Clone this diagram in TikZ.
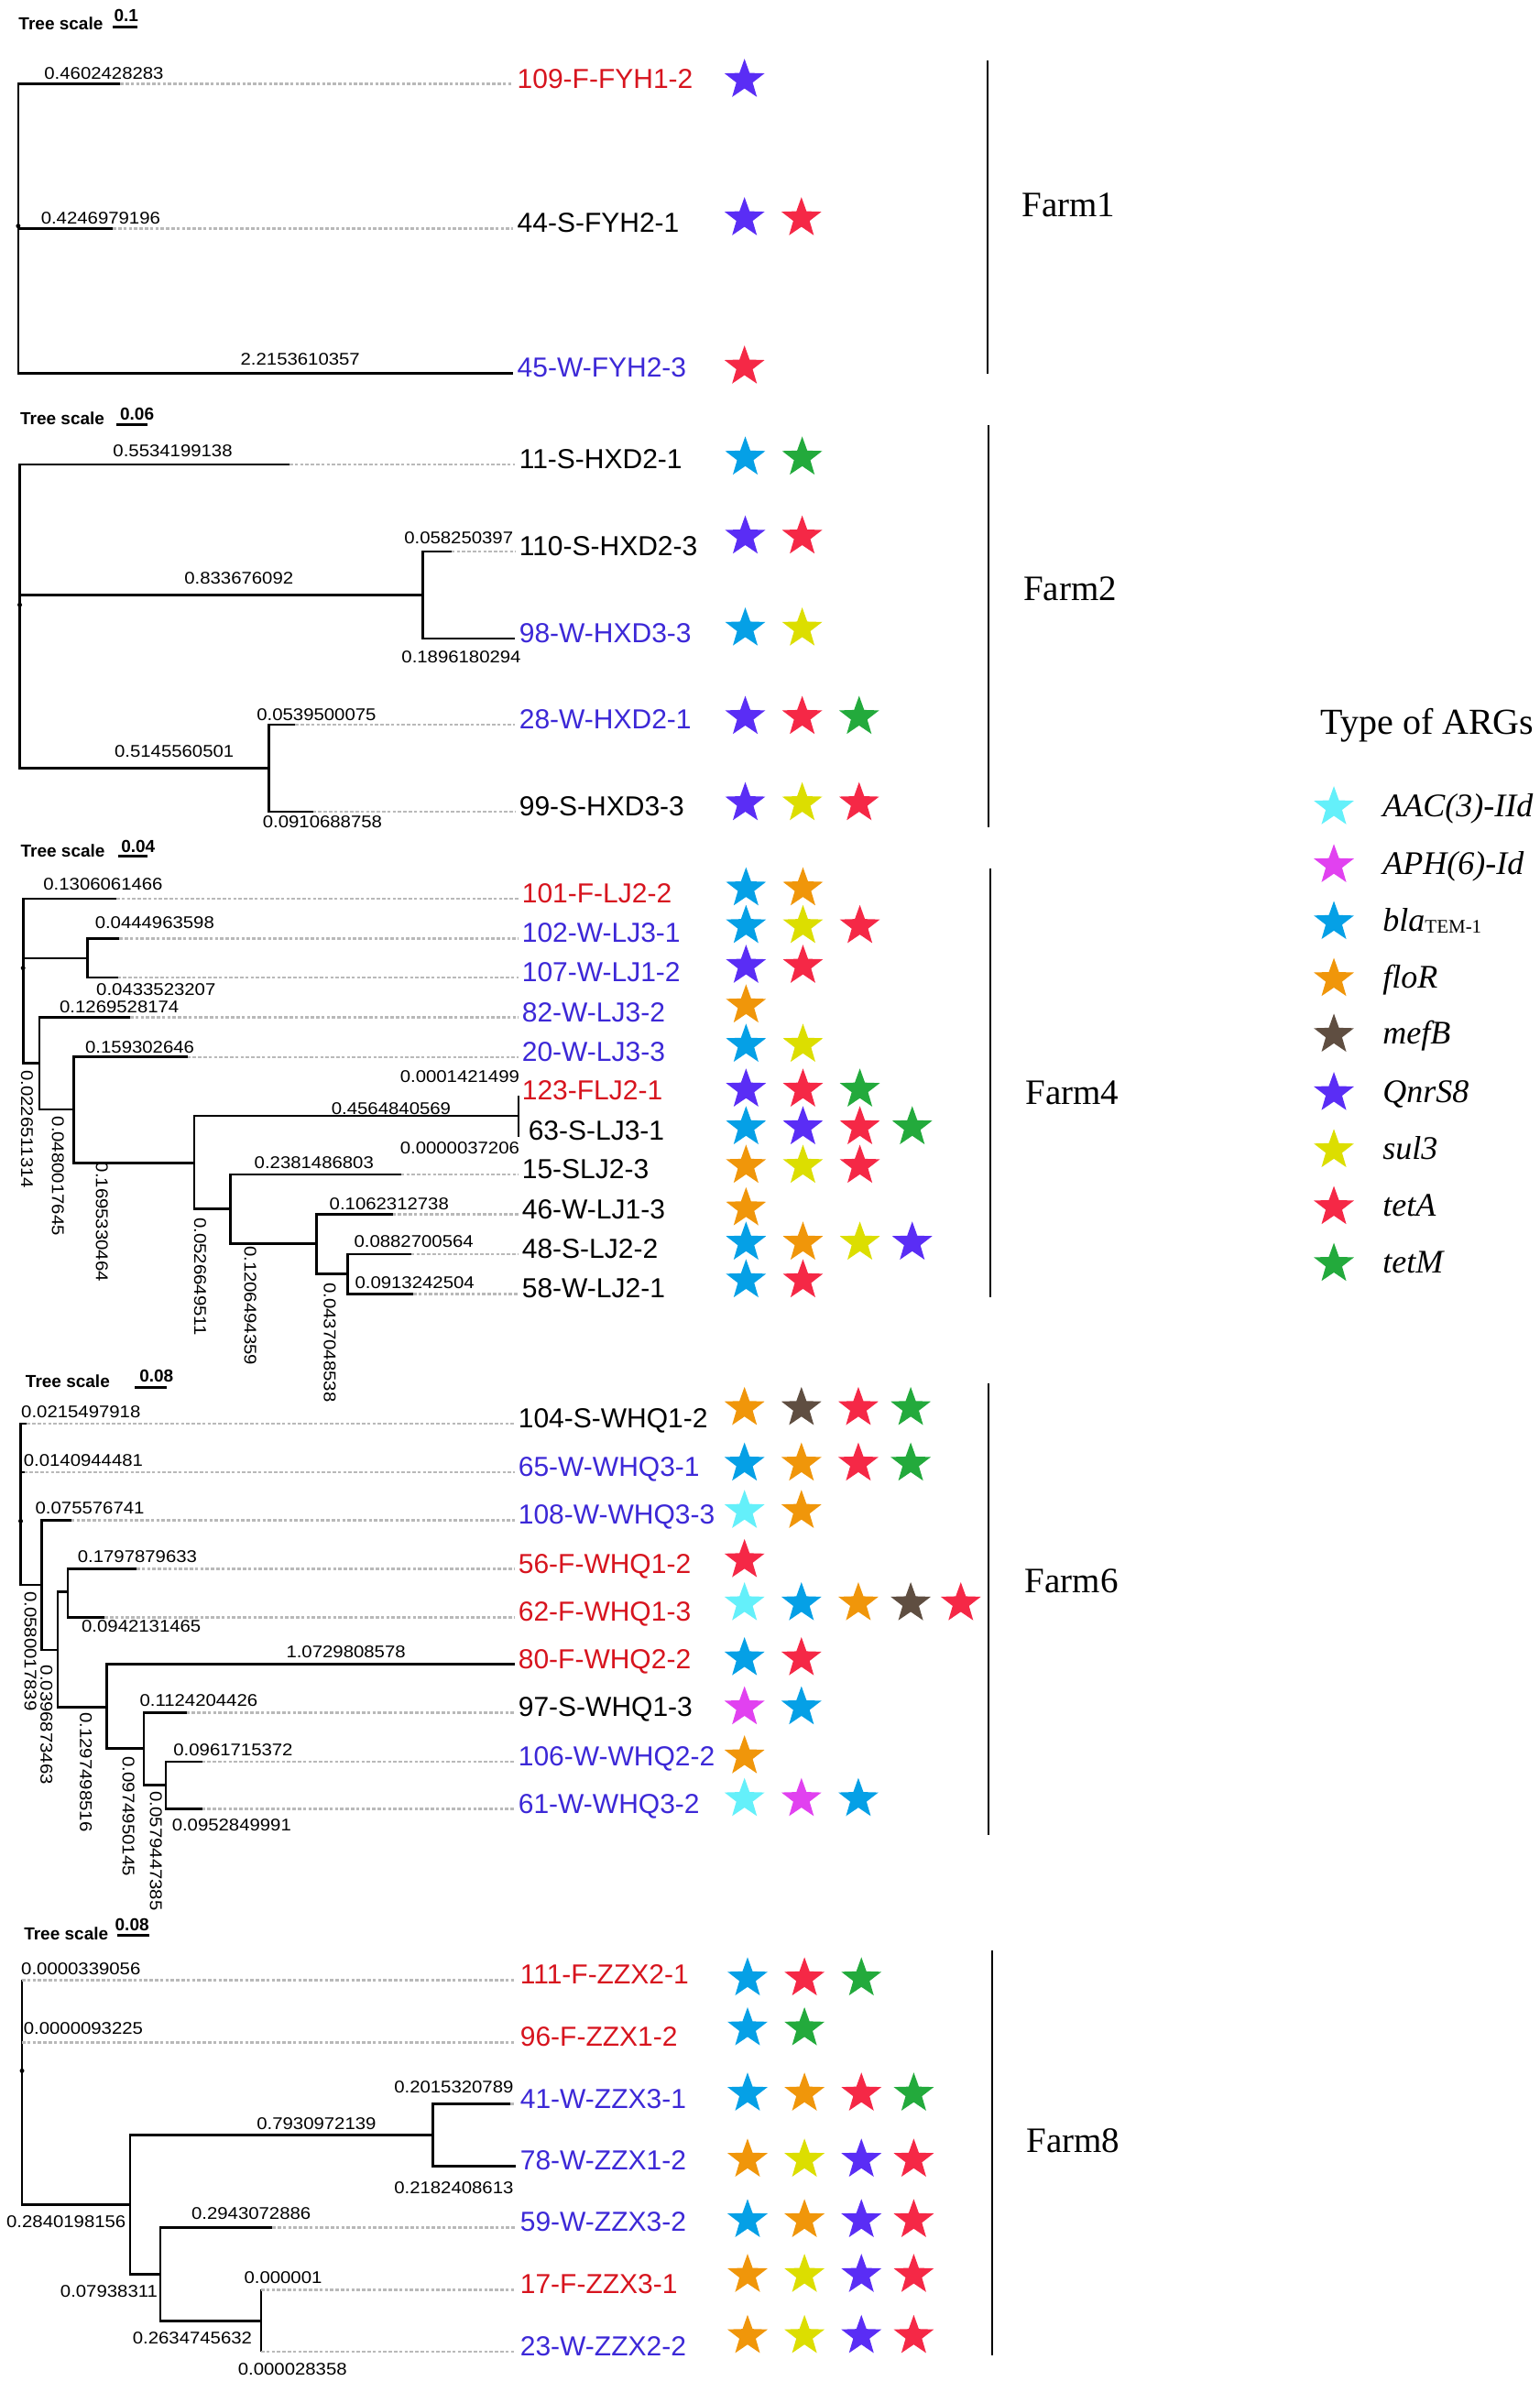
\documentclass[tikz,border=0pt]{standalone}
\usepackage{fontspec}
\setmainfont{Liberation Serif}
\setsansfont{Liberation Sans}
\newfontfamily\blfont[FakeStretch=1.1]{Liberation Sans}
\usetikzlibrary{shapes.geometric}

\definecolor{cAAC}{RGB}{100,240,250}
\definecolor{cAPH}{RGB}{225,65,240}
\definecolor{cBla}{RGB}{5,160,230}
\definecolor{cFlo}{RGB}{240,150,10}
\definecolor{cMef}{RGB}{95,78,65}
\definecolor{cQnr}{RGB}{90,45,245}
\definecolor{cSul}{RGB}{220,222,0}
\definecolor{cTetA}{RGB}{245,40,70}
\definecolor{cTetM}{RGB}{35,170,60}
\definecolor{labred}{RGB}{215,20,30}
\definecolor{labblue}{RGB}{60,40,215}
\definecolor{dashgray}{RGB}{185,185,185}

\tikzset{
  branch/.style={line width=2.7pt, black, line join=miter},
  dashline/.style={line width=2.6pt, dashgray, dash pattern=on 3.6pt off 2.2pt},
  tiplab/.style={anchor=base west, inner sep=0pt, font=\sffamily\fontsize{30}{30}\selectfont},
  blab/.style={inner sep=0pt, font=\blfont\fontsize{18.5}{18.5}\selectfont},
  rlab/.style={blab, rotate=-90},
  tsc/.style={inner sep=0pt, font=\sffamily\bfseries\fontsize{19}{19}\selectfont},
  scalebar/.style={line width=3pt},
  farmline/.style={line width=2pt},
  farmlab/.style={inner sep=0pt, font=\rmfamily\fontsize{39}{39}\selectfont},
  rootdot/.style={circle, fill=black, inner sep=0pt, minimum size=5pt},
  argstar/.style={star, star points=5, star point ratio=2.45, minimum size=46pt, inner sep=0pt, draw=none},
  legtxt/.style={anchor=base west, inner sep=0pt, font=\rmfamily\itshape\fontsize{36}{36}\selectfont},
}

\newcommand{\mktip}[6]{%
  \coordinate (#1e) at (#3,#4);
  \coordinate (#1d) at (\dashx,#4);
  \draw[branch] (#2) |- (#1e);
  \draw[dashline] (#1e) -- (#1d);
  \node[tiplab, text=#5] (#1) at (\labx,#4+2.7) {#6};}

\newcommand{\starrow}[3]{%
  \foreach \cc [count=\ii] in {#3} {%
    \edef\xx{\ifcase\numexpr\ii\relax\or490.5\or528\or565.5\or600\or633\fi}%
    \node[argstar, fill=\cc] (#1s\ii) at (\xx+\sxo, #2) {};}}

\begin{document}
\begin{tikzpicture}[x=1.6568pt, y=-1.6575pt]
\useasboundingbox (0,0) rectangle (1014,1568);
\fill[white] (0,0) rectangle (1014,1568);

%% ---------------- Farm1 ----------------
\def\labx{340.7}\def\dashx{337.8}\def\sxo{0}
\node[tsc] (ts1) at (40.1,15.6) {Tree scale};
\node[tsc] (sv1) at (83.2,10) {0.1};
\coordinate (sb1a) at (74.3,17.7); \coordinate (sb1b) at (90.4,17.7);
\draw[scalebar] (sb1a) -- (sb1b);
\coordinate (f1r) at (12,148.8);
\node[rootdot] (f1dot) at (f1r) {};
\mktip{t109}{f1r}{79.2}{55.3}{labred}{109-F-FYH1-2}
\mktip{t44}{f1r}{74.4}{150.4}{black}{44-S-FYH2-1}
\mktip{t45}{f1r}{337.8}{245.8}{labblue}{45-W-FYH2-3}
\node[blab] (b1a) at (68.5,48.3) {0.4602428283};
\node[blab] (b1b) at (66.3,143.4) {0.4246979196};
\node[blab] (b1c) at (197.8,236.7) {2.2153610357};
\starrow{r109}{52.6}{cQnr}
\starrow{r44}{143.7}{cQnr,cTetA}
\starrow{r45}{241.4}{cTetA}
\coordinate (fl1a) at (650.6,39.8); \coordinate (fl1b) at (650.6,245.9);
\draw[farmline] (fl1a) -- (fl1b);
\node[farmlab] (farm1) at (704,135) {Farm1};

%% ---------------- Farm2 ----------------
\def\labx{342}\def\dashx{339.5}\def\sxo{0.5}
\node[tsc] (ts2) at (41.1,275.4) {Tree scale};
\node[tsc] (sv2) at (90.3,272.9) {0.06};
\coordinate (sb2a) at (76.6,279.5); \coordinate (sb2b) at (96.9,279.5);
\draw[scalebar] (sb2a) -- (sb2b);
\coordinate (f2r) at (13,398.3);
\node[rootdot] (f2dot) at (f2r) {};
\coordinate (f2a) at (278.7,391.7);
\coordinate (f2b) at (177.2,505.9);
\draw[branch] (f2r) |- (f2a);
\draw[branch] (f2r) |- (f2b);
\mktip{t11}{f2r}{190.7}{305.8}{black}{11-S-HXD2-1}
\mktip{t110}{f2a}{297.4}{363.1}{black}{110-S-HXD2-3}
\mktip{t98}{f2a}{339.5}{420.5}{labblue}{98-W-HXD3-3}
\mktip{t28}{f2b}{194.6}{477.2}{labblue}{28-W-HXD2-1}
\mktip{t99}{f2b}{206.2}{534.6}{black}{99-S-HXD3-3}
\node[blab] (b2a) at (113.8,297) {0.5534199138};
\node[blab] (b2b) at (157.4,380.6) {0.833676092};
\node[blab] (b2c) at (302.2,354) {0.058250397};
\node[blab] (b2d) at (303.9,432.4) {0.1896180294};
\node[blab] (b2e) at (114.8,494.7) {0.5145560501};
\node[blab] (b2f) at (208.5,470.6) {0.0539500075};
\node[blab] (b2g) at (212.4,541.4) {0.0910688758};
\starrow{r11}{301.3}{cBla,cTetM}
\starrow{r110}{353.3}{cQnr,cTetA}
\starrow{r98}{413.9}{cBla,cSul}
\starrow{r28}{472.1}{cQnr,cTetA,cTetM}
\starrow{r99}{528.9}{cQnr,cSul,cTetA}
\coordinate (fl2a) at (651.1,279.8); \coordinate (fl2b) at (651.1,545);
\draw[farmline] (fl2a) -- (fl2b);
\node[farmlab] (farm2) at (705,388) {Farm2};

%% ---------------- Farm4 ----------------
\def\labx{343.8}\def\dashx{341.7}\def\sxo{1}
\node[tsc] (ts4) at (41.4,560) {Tree scale};
\node[tsc] (sv4) at (91,557.3) {0.04};
\coordinate (sb4a) at (77.6,563.7); \coordinate (sb4b) at (97,563.7);
\draw[scalebar] (sb4a) -- (sb4b);
\coordinate (f4r) at (15.2,637.5);
\node[rootdot] (f4dot) at (f4r) {};
\coordinate (f4A) at (57.5,631.1);
\coordinate (f4B) at (25.9,700.1);
\coordinate (f4C) at (48.5,730.6);
\coordinate (f4D) at (128,765.7);
\coordinate (f4E) at (341.7,734.9);
\coordinate (f4F) at (152,796.2);
\coordinate (f4G) at (208.5,818.8);
\coordinate (f4H) at (228.9,838.9);
\draw[branch] (f4r) |- (f4A);
\draw[branch] (f4r) |- (f4B);
\draw[branch] (f4B) |- (f4C);
\draw[branch] (f4C) |- (f4D);
\draw[branch] (f4D) |- (f4E);
\draw[branch] (f4D) |- (f4F);
\draw[branch] (f4F) |- (f4G);
\draw[branch] (f4G) |- (f4H);
\mktip{t101}{f4r}{76.6}{591.9}{labred}{101-F-LJ2-2}
\mktip{t102}{f4A}{78.6}{618}{labblue}{102-W-LJ3-1}
\mktip{t107}{f4A}{77.6}{643.8}{labblue}{107-W-LJ1-2}
\mktip{t82}{f4B}{85.7}{670}{labblue}{82-W-LJ3-2}
\mktip{t20}{f4C}{123.5}{696.1}{labblue}{20-W-LJ3-3}
\coordinate (t123e) at (341.7,721.6);
\coordinate (t63e) at (341.7,748.4);
\draw[branch] (f4E) |- (t123e);
\draw[branch] (f4E) |- (t63e);
\node[tiplab, text=labred] (t123) at (343.8,724.3) {123-FLJ2-1};
\node[tiplab, text=black] (t63) at (348,751.1) {63-S-LJ3-1};
\mktip{t15}{f4F}{264.2}{773.5}{black}{15-SLJ2-3}
\mktip{t46}{f4G}{258.7}{799.7}{black}{46-W-LJ1-3}
\mktip{t48}{f4H}{270.9}{825.9}{black}{48-S-LJ2-2}
\mktip{t58}{f4H}{272.2}{852}{black}{58-W-LJ2-1}
\node[blab] (b4a) at (67.9,582) {0.1306061466};
\node[blab] (b4b) at (101.9,607.5) {0.0444963598};
\node[blab] (b4c) at (102.8,651.8) {0.0433523207};
\node[blab] (b4d) at (78.6,663.3) {0.1269528174};
\node[blab] (b4e) at (92.1,689.5) {0.159302646};
\node[blab] (b4f) at (302.9,708.8) {0.0001421499};
\node[blab] (b4g) at (257.7,729.9) {0.4564840569};
\node[blab] (b4h) at (302.9,756) {0.0000037206};
\node[blab] (b4i) at (206.9,765.5) {0.2381486803};
\node[blab] (b4j) at (256.4,792.6) {0.1062312738};
\node[blab] (b4k) at (272.6,817.8) {0.0882700564};
\node[blab] (b4l) at (273.2,844.4) {0.0913242504};
\node[rlab] (b4m) at (17.8,743.7) {0.0226511314};
\node[rlab] (b4n) at (38.1,774.5) {0.0480017645};
\node[rlab] (b4o) at (67.2,804.7) {0.1695330464};
\node[rlab] (b4p) at (131.9,840.7) {0.0526649511};
\node[rlab] (b4q) at (164.9,859.8) {0.1206494359};
\node[rlab] (b4r) at (217.3,884) {0.0437048538};
\starrow{r101}{585}{cBla,cFlo}
\starrow{r102}{609.8}{cBla,cSul,cTetA}
\starrow{r107}{636}{cQnr,cTetA}
\starrow{r82}{662.1}{cFlo}
\starrow{r20}{688}{cBla,cSul}
\starrow{r123}{717.5}{cQnr,cTetA,cTetM}
\starrow{r63}{742.3}{cBla,cQnr,cTetA,cTetM}
\starrow{r15}{767.7}{cFlo,cSul,cTetA}
\starrow{r46}{795.7}{cFlo}
\starrow{r48}{818.3}{cBla,cFlo,cSul,cQnr}
\starrow{r58}{843.1}{cBla,cTetA}
\coordinate (fl4a) at (652.5,572); \coordinate (fl4b) at (652.5,854.3);
\draw[farmline] (fl4a) -- (fl4b);
\node[farmlab] (farm4) at (706.3,719.9) {Farm4};

%% ---------------- Farm6 ----------------
\def\labx{341.4}\def\dashx{339.4}\def\sxo{0}
\node[tsc] (ts6) at (44.6,909.7) {Tree scale};
\node[tsc] (sv6) at (103.1,906.3) {0.08};
\coordinate (sb6a) at (88.9,913.6); \coordinate (sb6b) at (109.9,913.6);
\draw[scalebar] (sb6a) -- (sb6b);
\coordinate (f6r) at (13.6,1001.7);
\node[rootdot] (f6dot) at (f6r) {};
\coordinate (f6A) at (27.5,1043.8);
\coordinate (f6B) at (38.1,1086.5);
\coordinate (f6C) at (44.6,1048.4);
\coordinate (f6D) at (70.5,1124.3);
\coordinate (f6E) at (94.7,1151.6);
\coordinate (f6F) at (109.3,1175.6);
\draw[branch] (f6r) |- (f6A);
\draw[branch] (f6A) |- (f6B);
\draw[branch] (f6B) |- (f6C);
\draw[branch] (f6B) |- (f6D);
\draw[branch] (f6D) |- (f6E);
\draw[branch] (f6E) |- (f6F);
\mktip{t104}{f6r}{17.8}{937.6}{black}{104-S-WHQ1-2}
\mktip{t65}{f6r}{16}{969.5}{labblue}{65-W-WHQ3-1}
\mktip{t108}{f6A}{46.9}{1001.1}{labblue}{108-W-WHQ3-3}
\mktip{t56}{f6C}{89.9}{1033.3}{labred}{56-F-WHQ1-2}
\mktip{t62}{f6C}{68.9}{1065}{labred}{62-F-WHQ1-3}
\mktip{t80}{f6D}{339.4}{1096}{labred}{80-F-WHQ2-2}
\mktip{t97}{f6E}{122.9}{1127.8}{black}{97-S-WHQ1-3}
\mktip{t106}{f6F}{133.2}{1160.1}{labblue}{106-W-WHQ2-2}
\mktip{t61}{f6F}{133.2}{1191.3}{labblue}{61-W-WHQ3-2}
\node[blab] (b6a) at (53.3,929.6) {0.0215497918};
\node[blab] (b6b) at (54.9,961.5) {0.0140944481};
\node[blab] (b6c) at (59.2,993.2) {0.075576741};
\node[blab] (b6d) at (90.5,1025) {0.1797879633};
\node[blab] (b6e) at (93.1,1070.7) {0.0942131465};
\node[blab] (b6f) at (227.9,1088) {1.0729808578};
\node[blab] (b6g) at (130.9,1119.8) {0.1124204426};
\node[blab] (b6h) at (153.6,1152.6) {0.0961715372};
\node[blab] (b6i) at (152.6,1202.1) {0.0952849991};
\node[rlab] (b6j) at (20,1087.4) {0.0580017839};
\node[rlab] (b6k) at (30.7,1135.9) {0.0396873463};
\node[rlab] (b6l) at (56.6,1167) {0.1297498516};
\node[rlab] (b6m) at (84.7,1196.2) {0.0974950145};
\node[rlab] (b6n) at (102.8,1219) {0.0579447385};
\starrow{r104}{927.2}{cFlo,cMef,cTetA,cTetM}
\starrow{r65}{963.8}{cBla,cFlo,cTetA,cTetM}
\starrow{r108}{995}{cAAC,cFlo}
\starrow{r56}{1027.4}{cTetA}
\starrow{r62}{1055.8}{cAAC,cBla,cFlo,cMef,cTetA}
\starrow{r80}{1092}{cBla,cTetA}
\starrow{r97}{1124.3}{cAPH,cBla}
\starrow{r106}{1156.6}{cFlo}
\starrow{r61}{1184.7}{cAAC,cAPH,cBla}
\coordinate (fl6a) at (651.3,911); \coordinate (fl6b) at (651.3,1208.4);
\draw[farmline] (fl6a) -- (fl6b);
\node[farmlab] (farm6) at (706,1041) {Farm6};

%% ---------------- Farm8 ----------------
\def\labx{342.6}\def\dashx{339.7}\def\sxo{2}
\node[tsc] (ts8) at (43.6,1273.2) {Tree scale};
\node[tsc] (sv8) at (87,1267.3) {0.08};
\coordinate (sb8a) at (77,1274.6); \coordinate (sb8b) at (98.6,1274.6);
\draw[scalebar] (sb8a) -- (sb8b);
\coordinate (f8r) at (14.5,1363.7);
\node[rootdot] (f8dot) at (f8r) {};
\coordinate (f8A) at (85.7,1451.7);
\coordinate (f8B) at (285.1,1406);
\coordinate (f8C) at (105.7,1497.5);
\coordinate (f8D) at (172,1528.5);
\draw[branch] (f8r) |- (f8A);
\draw[branch] (f8A) |- (f8B);
\draw[branch] (f8A) |- (f8C);
\draw[branch] (f8C) |- (f8D);
\mktip{t111}{f8r}{14.5}{1304}{labred}{111-F-ZZX2-1}
\mktip{t96}{f8r}{14.5}{1344.9}{labred}{96-F-ZZX1-2}
\mktip{t41}{f8B}{336.2}{1385.5}{labblue}{41-W-ZZX3-1}
\mktip{t78}{f8B}{339.7}{1426.4}{labblue}{78-W-ZZX1-2}
\mktip{t59}{f8C}{179.4}{1466.8}{labblue}{59-W-ZZX3-2}
\mktip{t17}{f8D}{172}{1507.9}{labred}{17-F-ZZX3-1}
\mktip{t23}{f8D}{172}{1548.7}{labblue}{23-W-ZZX2-2}
\node[blab] (b8a) at (53.3,1296.3) {0.0000339056};
\node[blab] (b8b) at (54.9,1335.6) {0.0000093225};
\node[blab] (b8c) at (299,1374.1) {0.2015320789};
\node[blab] (b8d) at (208.5,1398.8) {0.7930972139};
\node[blab] (b8e) at (299,1440.5) {0.2182408613};
\node[blab] (b8f) at (43.6,1463) {0.2840198156};
\node[blab] (b8g) at (165.5,1457.9) {0.2943072886};
\node[blab] (b8h) at (71.8,1509) {0.07938311};
\node[blab] (b8i) at (186.5,1500) {0.000001};
\node[blab] (b8j) at (126.7,1539.8) {0.2634745632};
\node[blab] (b8k) at (192.7,1560.2) {0.000028358};
\starrow{r111}{1302.8}{cBla,cTetA,cTetM}
\starrow{r96}{1335.7}{cBla,cTetM}
\starrow{r41}{1378.7}{cBla,cFlo,cTetA,cTetM}
\starrow{r78}{1422.2}{cFlo,cSul,cQnr,cTetA}
\starrow{r59}{1462}{cBla,cFlo,cQnr,cTetA}
\starrow{r17}{1498.1}{cFlo,cSul,cQnr,cTetA}
\starrow{r23}{1538.3}{cFlo,cSul,cQnr,cTetA}
\coordinate (fl8a) at (653.4,1284.5); \coordinate (fl8b) at (653.4,1551.2);
\draw[farmline] (fl8a) -- (fl8b);
\node[farmlab] (farm8) at (707,1410) {Farm8};

%% ---------------- Legend ----------------
\node[anchor=base west, inner sep=0pt, font=\rmfamily\fontsize{40}{40}\selectfont] (legtitle) at (870,483.7) {Type of ARGs};
\node[argstar, fill=cAAC] (lgs1) at (878.8,531.6) {};
\node[argstar, fill=cAPH] (lgs2) at (878.8,569.7) {};
\node[argstar, fill=cBla] (lgs3) at (878.8,607.2) {};
\node[argstar, fill=cFlo] (lgs4) at (878.8,644.7) {};
\node[argstar, fill=cMef] (lgs5) at (878.8,681.4) {};
\node[argstar, fill=cQnr] (lgs6) at (878.8,719.8) {};
\node[argstar, fill=cSul] (lgs7) at (878.8,757.4) {};
\node[argstar, fill=cTetA] (lgs8) at (878.8,794.9) {};
\node[argstar, fill=cTetM] (lgs9) at (878.8,832.3) {};
\node[legtxt] (lgt1) at (910.9,537.6) {AAC(3)-IId};
\node[legtxt] (lgt2) at (910.9,575.7) {APH(6)-Id};
\node[legtxt] (lgt3) at (910.9,613.2) {bla\raisebox{-2pt}{\upshape\fontsize{21}{21}\selectfont TEM-1}};
\node[legtxt] (lgt4) at (910.9,650.7) {floR};
\node[legtxt] (lgt5) at (910.9,687.4) {mefB};
\node[legtxt] (lgt6) at (910.9,725.8) {QnrS8};
\node[legtxt] (lgt7) at (910.9,763.4) {sul3};
\node[legtxt] (lgt8) at (910.9,800.9) {tetA};
\node[legtxt] (lgt9) at (910.9,838.3) {tetM};
\end{tikzpicture}
\end{document}
